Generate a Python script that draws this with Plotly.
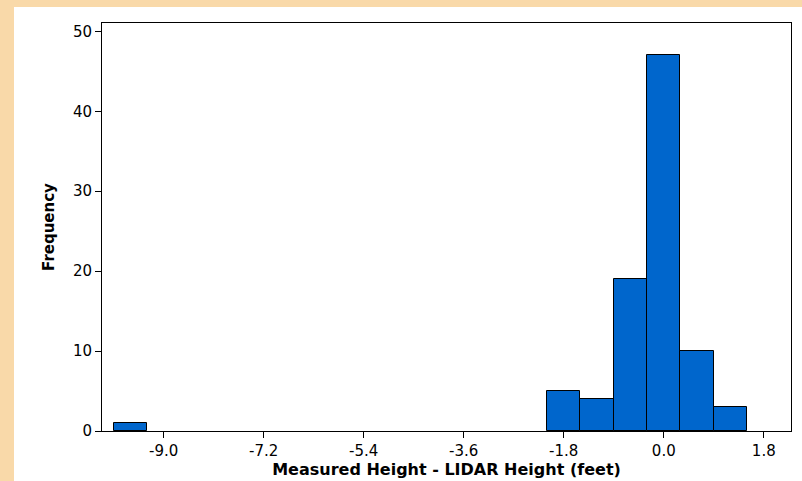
import plotly.graph_objects as go

bin_centers = [-9.6, -1.8, -1.2, -0.6, 0.0, 0.6, 1.2]
counts = [1, 5, 4, 19, 47, 10, 3]
bin_width = 0.6
x_tick_vals = [-9.0, -7.2, -5.4, -3.6, -1.8, 0.0, 1.8]
x_tick_text = ["-9.0", "-7.2", "-5.4", "-3.6", "-1.8", "0.0", "1.8"]
y_tick_vals = [0, 10, 20, 30, 40, 50]

fig = go.Figure()
fig.add_trace(go.Bar(
    x=bin_centers, y=counts, width=[bin_width] * len(bin_centers),
    marker=dict(color="#0066CC", line=dict(color="black", width=1)),
    hoverinfo="x+y",
))

W, H = 802, 481
ml, mr, mt, mb = 102, 11, 23, 50
pw, ph = W - ml - mr, H - mt - mb
fig.add_shape(type="rect", xref="paper", yref="paper", layer="below",
              x0=(14 - ml) / pw, x1=(W + 10 - ml) / pw,
              y0=-(mb + 10) / ph, y1=(ph + mt - 7) / ph,
              fillcolor="white", line=dict(width=0))

font = dict(family="DejaVu Sans, Verdana, sans-serif", size=15, color="black")
fig.update_layout(
    width=W, height=H,
    margin=dict(l=ml, r=mr, t=mt, b=mb),
    paper_bgcolor="#F9D9A9", plot_bgcolor="white",
    font=font, showlegend=False, bargap=0,
    xaxis=dict(range=[-10.11, 2.29], tickvals=x_tick_vals, ticktext=x_tick_text,
               ticks="outside", ticklen=6, tickcolor="black", showgrid=False,
               zeroline=False, showline=True, linecolor="black", linewidth=1, mirror=True,
               automargin=False,
               title=dict(text="<b>Measured Height - LIDAR Height (feet)</b>",
                          font=dict(size=16), standoff=4)),
    yaxis=dict(range=[0, 51.05], tickvals=y_tick_vals,
               ticks="outside", ticklen=6, tickcolor="black", showgrid=False,
               zeroline=False, showline=True, linecolor="black", linewidth=1, mirror=True,
               automargin=False,
               title=dict(text="<b>Frequency</b>", font=dict(size=15), standoff=14)),
)
fig.write_html("out.html", config={"displayModeBar": False},
               post_script="document.body.style.margin='0px';")
